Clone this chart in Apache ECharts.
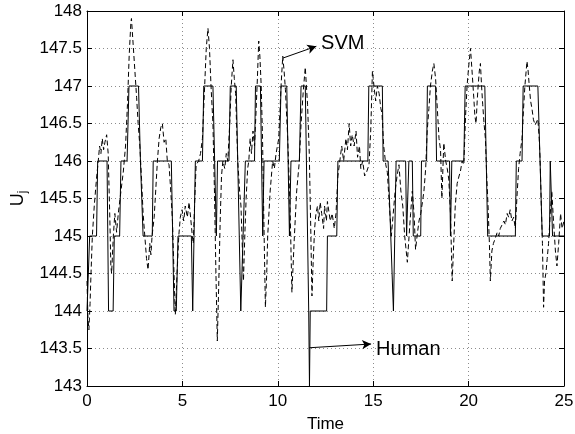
<!DOCTYPE html>
<html>
<head>
<meta charset="utf-8">
<title>U_j over Time</title>
<script src="https://cdn.jsdelivr.net/npm/echarts@6/dist/echarts.min.js"></script>
<style>
  html, body { margin: 0; padding: 0; background: #fff; }
  #chart { width: 575px; height: 434px; }
</style>
</head>
<body>
<div id="chart"></div>
<script>
// human operator (solid step line)
var humanTime = [
  0, 0.14, 0.5, 0.56, 1.05, 1.13, 1.37, 1.43, 1.71, 1.78,
  2.1, 2.2, 2.7, 2.8, 2.86, 2.94, 3.42, 3.47, 4.42, 4.56,
  4.68, 4.77, 5.47, 5.54, 5.58, 5.68, 6.05, 6.12, 6.6, 6.78,
  6.84, 7.44, 7.51, 7.82, 8.06, 8.14, 8.3, 8.78, 8.83, 9.09,
  9.21, 9.28, 10.08, 10.17, 10.47, 10.61, 10.69, 11.13, 11.22, 11.44,
  11.62, 11.66, 11.7, 12.56, 12.6, 13.09, 13.15, 14.72, 14.77, 15.48,
  15.52, 15.78, 16.06, 16.2, 16.7, 16.75, 16.87, 17.05, 17.1, 17.49,
  17.53, 17.8, 17.84, 18.27, 18.32, 19.0, 19.05, 19.12, 19.75, 19.82,
  20.85, 21.0, 22.45, 22.5, 22.8, 22.86, 23.63, 23.86, 24.24, 24.28,
  24.4, 25
];
var humanU = [
  144, 145, 145, 146, 146, 144, 144, 145, 145, 146,
  146, 147, 147, 146, 146, 145, 145, 146, 146, 144,
  144, 145, 145, 144, 144, 146, 146, 147, 147, 145,
  146, 146, 147, 147, 144, 144, 146, 146, 147, 147,
  145, 146, 146, 147, 147, 145, 146, 146, 147, 147,
  144, 143, 144, 144, 145, 145, 146, 146, 147, 147,
  146, 146, 144, 146, 146, 145, 146, 146, 145, 145,
  146, 146, 147, 147, 146, 146, 145, 146, 146, 147,
  147, 145, 145, 146, 146, 147, 147, 145, 145, 146,
  145, 145
];

// SVM prediction (dashed line)
var svmTime = [
  0, 0.05, 0.1, 0.16, 0.21, 0.28, 0.38, 0.5, 0.59, 0.66,
  0.73, 0.8, 0.87, 0.94, 1.03, 1.11, 1.2, 1.25, 1.29, 1.38,
  1.46, 1.55, 1.64, 1.78, 1.9, 2.02, 2.12, 2.21, 2.3, 2.33,
  2.42, 2.51, 2.6, 2.68, 2.77, 2.86, 2.94, 3.03, 3.12, 3.2,
  3.29, 3.35, 3.41, 3.52, 3.6, 3.69, 3.78, 3.87, 3.95, 4.04,
  4.13, 4.21, 4.3, 4.39, 4.48, 4.56, 4.63, 4.72, 4.81, 4.89,
  4.98, 5.07, 5.15, 5.26, 5.35, 5.43, 5.52, 5.57, 5.65, 5.72,
  5.85, 5.95, 6.05, 6.15, 6.25, 6.34, 6.42, 6.5, 6.6, 6.68,
  6.75, 6.83, 6.9, 6.98, 7.05, 7.12, 7.22, 7.3, 7.38, 7.48,
  7.56, 7.65, 7.72, 7.79, 7.9, 8.0, 8.07, 8.2, 8.27, 8.34,
  8.42, 8.48, 8.55, 8.62, 8.7, 8.78, 8.85, 8.93, 9.0, 9.06,
  9.13, 9.2, 9.27, 9.35, 9.42, 9.47, 9.6, 9.73, 9.82, 9.91,
  10.05, 10.17, 10.26, 10.33, 10.4, 10.52, 10.64, 10.74, 10.8, 10.87,
  10.99, 11.13, 11.22, 11.34, 11.44, 11.5, 11.56, 11.65, 11.72, 11.79,
  11.86, 11.93, 12.0, 12.08, 12.15, 12.22, 12.3, 12.4, 12.45, 12.55,
  12.6, 12.66, 12.75, 12.85, 12.96, 13.05, 13.15, 13.25, 13.35, 13.45,
  13.57, 13.65, 13.74, 13.82, 13.9, 14.0, 14.1, 14.18, 14.28, 14.35,
  14.45, 14.55, 14.65, 14.78, 14.87, 14.96, 15.04, 15.13, 15.22, 15.31,
  15.4, 15.46, 15.55, 15.66, 15.74, 15.85, 15.95, 16.05, 16.15, 16.25,
  16.35, 16.45, 16.55, 16.65, 16.79, 16.88, 16.96, 17.05, 17.14, 17.22,
  17.3, 17.4, 17.49, 17.58, 17.66, 17.75, 17.83, 17.92, 18.0, 18.1,
  18.18, 18.27, 18.36, 18.45, 18.53, 18.6, 18.7, 18.8, 18.88, 18.96,
  19.05, 19.14, 19.22, 19.3, 19.4, 19.5, 19.57, 19.66, 19.75, 19.84,
  19.92, 20.0, 20.1, 20.18, 20.27, 20.33, 20.39, 20.45, 20.5, 20.56,
  20.62, 20.68, 20.74, 20.81, 20.88, 20.95, 21.02, 21.09, 21.14, 21.22,
  21.3, 21.4, 21.5, 21.58, 21.66, 21.75, 21.85, 21.93, 22.02, 22.1,
  22.18, 22.27, 22.36, 22.45, 22.53, 22.62, 22.7, 22.8, 22.88, 22.95,
  23.06, 23.12, 23.18, 23.25, 23.32, 23.4, 23.49, 23.56, 23.63, 23.7,
  23.75, 23.81, 23.87, 23.93, 23.98, 24.05, 24.12, 24.19, 24.28, 24.36,
  24.45, 24.55, 24.63, 24.72, 24.82, 24.9, 25
];
var svmU = [
  144.4, 143.9, 143.75, 144.1, 144.5, 145.0, 145.4, 145.77, 146.0, 146.2,
  146.1, 146.3, 146.15, 146.25, 146.35, 146.1, 145.2, 144.6, 144.5, 145.0,
  145.3, 145.05, 145.3, 145.6, 145.85, 146.2, 146.75, 147.4, 147.85, 147.9,
  147.55, 147.2, 146.85, 146.5, 146.2, 145.75, 145.3, 145.0, 144.7, 144.55,
  144.9, 144.75, 145.0, 145.25, 145.6, 146.0, 146.3, 146.45, 146.5, 146.25,
  146.3, 146.0, 145.95, 145.6, 145.2, 144.5, 143.95, 144.5, 145.0, 145.25,
  145.35, 145.2, 145.4, 145.25, 145.45, 145.25, 145.0, 144.9, 145.5, 145.95,
  146.0, 146.1, 146.3, 146.9, 147.5, 147.77, 147.5, 147.0, 146.5, 145.6,
  144.6, 143.6, 144.3, 145.2, 145.8, 146.0, 145.9, 146.1, 146.0, 146.5,
  147.0, 147.35, 147.1, 146.9, 146.0, 145.6, 145.4, 144.4, 145.0, 145.5,
  145.9, 146.0, 146.3, 146.1, 146.4, 146.2, 146.6, 147.1, 147.6, 147.4,
  147.0, 146.3, 145.2, 144.05, 144.5, 145.0, 145.6, 146.0, 145.9, 146.1,
  146.3, 147.0, 147.4, 147.2, 146.95, 146.3, 145.4, 144.25, 144.6, 145.0,
  145.6, 146.0, 146.5, 146.95, 147.25, 147.0, 146.75, 146.1, 145.2, 144.2,
  144.7, 145.1, 145.3, 145.4, 145.2, 145.45, 145.3, 145.1, 145.4, 145.2,
  145.46, 145.45, 145.2, 145.3, 145.1, 145.3, 145.8, 146.0, 146.2, 146.0,
  146.3, 146.15, 146.5, 146.2, 146.35, 146.2, 146.4, 146.05, 146.2, 145.9,
  146.0, 145.8, 145.85, 145.95, 146.4, 147.2, 147.0, 146.8, 147.0, 146.9,
  146.7, 146.64, 146.2, 145.95, 145.85, 145.4, 145.0, 145.3, 145.6, 145.8,
  145.95, 145.6, 145.4, 145.0, 144.65, 145.0, 145.3, 145.6, 145.3, 144.82,
  145.0, 145.2, 145.3, 145.45, 145.6, 145.9, 146.4, 146.7, 147.0, 147.2,
  147.3, 147.1, 146.7, 146.3, 146.15, 145.5, 146.24, 146.0, 145.9, 145.76,
  145.3, 144.4, 144.9, 145.4, 145.7, 145.8, 145.86, 146.0, 145.95, 146.6,
  147.0, 147.25, 147.5, 147.2, 146.85, 146.6, 146.5, 146.8, 147.0, 147.2,
  147.3, 147.0, 146.75, 146.5, 146.3, 145.8, 145.4, 144.9, 144.4, 144.8,
  144.9, 144.97, 145.05, 145.0, 145.1, 145.1, 145.2, 145.15, 145.3, 145.25,
  145.35, 145.2, 145.25, 145.1, 145.5, 145.9, 146.1, 146.3, 146.7, 147.0,
  147.33, 147.2, 147.0, 146.8, 146.7, 146.55, 146.48, 146.5, 146.56, 146.3,
  146.0, 145.4, 144.9, 144.05, 144.4, 144.5, 144.7, 144.9, 145.3, 145.6,
  145.2, 144.8, 144.6, 144.9, 145.3, 145.1, 145.2
];

// annotation arrows: [start, end] in data units
var svmArrow = [[10.24, 147.37], [12.02, 147.53]];
var humanArrow = [[11.65, 143.51], [14.89, 143.56]];

function zip(xs, ys) {
  var out = [];
  for (var i = 0; i < xs.length; i++) out.push([xs[i], ys[i]]);
  return out;
}

var font = '"Liberation Sans", Arial, Helvetica, sans-serif';
var gridLine = { show: true, lineStyle: { color: '#8c8c8c', type: [1, 3], width: 1 } };
var blackLine = { show: true, onZero: false, lineStyle: { color: '#000', width: 1 } };
var tickIn = { show: true, inside: true, length: 5, lineStyle: { color: '#000' } };

function arrow(pts, text, dy) {
  return {
    silent: true,
    symbol: ['none', 'arrow'],
    symbolSize: [7, 9],
    lineStyle: { color: '#000', type: 'solid', width: 1 },
    label: {
      show: true, position: 'end', distance: 5, formatter: text,
      offset: [0, dy],
      color: '#000', fontFamily: font, fontSize: 20
    },
    data: [[{ coord: pts[0] }, { coord: pts[1] }]]
  };
}

var chart = echarts.init(document.getElementById('chart'));
chart.setOption({
  animation: false,
  backgroundColor: '#fff',
  grid: { left: 87, right: 11, top: 11, bottom: 48, outerBoundsMode: 'none' },
  xAxis: [{
    type: 'value', min: 0, max: 25, interval: 5, position: 'bottom',
    name: 'Time', nameLocation: 'middle', nameGap: 30,
    nameTextStyle: { color: '#000', fontFamily: font, fontSize: 17 },
    axisLine: blackLine, axisTick: tickIn,
    axisLabel: { color: '#000', fontFamily: font, fontSize: 17, margin: 7 },
    splitLine: gridLine
  }, {
    type: 'value', min: 0, max: 25, interval: 5, position: 'top',
    axisLine: blackLine, axisTick: tickIn,
    axisLabel: { show: false }, splitLine: { show: false }
  }],
  yAxis: [{
    type: 'value', min: 143, max: 148, interval: 0.5, position: 'left',
    name: '{u|U}{j|j}', nameLocation: 'middle', nameGap: 52, nameRotate: 90,
    nameTextStyle: {
      rich: {
        u: { color: '#000', fontFamily: font, fontSize: 18 },
        j: { color: '#000', fontFamily: font, fontSize: 12, padding: [10, 0, 0, 0] }
      }
    },
    axisLine: blackLine, axisTick: tickIn,
    axisLabel: { color: '#000', fontFamily: font, fontSize: 17, margin: 5 },
    splitLine: gridLine
  }, {
    type: 'value', min: 143, max: 148, interval: 0.5, position: 'right',
    axisLine: blackLine, axisTick: tickIn,
    axisLabel: { show: false }, splitLine: { show: false }
  }],
  series: [{
    name: 'Human', type: 'line', data: zip(humanTime, humanU),
    showSymbol: false, symbol: 'none',
    lineStyle: { color: '#000', width: 1 },
    markLine: arrow(humanArrow, 'Human', 6)
  }, {
    name: 'SVM', type: 'line', data: zip(svmTime, svmU),
    showSymbol: false, symbol: 'none',
    lineStyle: { color: '#000', width: 1, type: [5, 3] },
    markLine: arrow(svmArrow, 'SVM', -1)
  }]
});
</script>
</body>
</html>
